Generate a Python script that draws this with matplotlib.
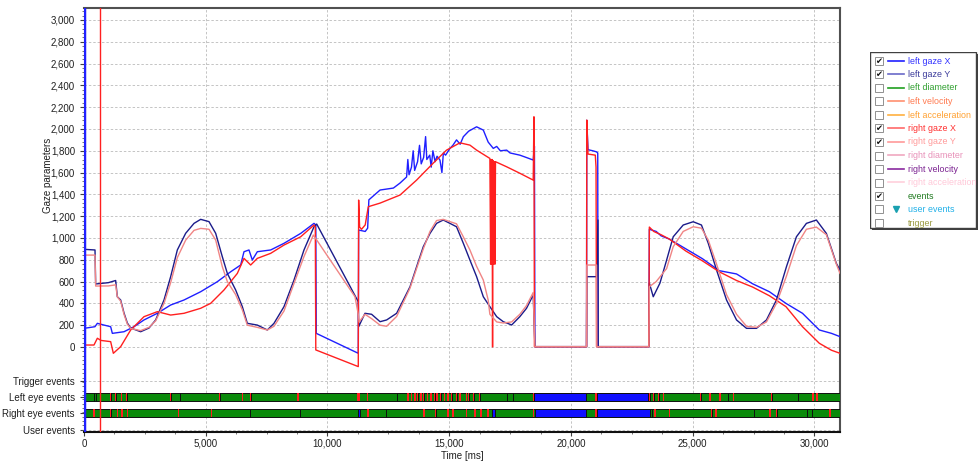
import numpy as np
import matplotlib.pyplot as plt
from matplotlib.ticker import MultipleLocator, FuncFormatter
from matplotlib.patches import Rectangle

plt.rcParams['font.family'] = ['Liberation Sans', 'DejaVu Sans']

# gaze samples: (time ms, value)
left_gaze_x = [(0, 171), (450, 186), (548, 217), (821, 201), (1095, 186), (1164, 125), (1643, 140),
               (2053, 186), (2464, 248), (3012, 309), (3559, 385), (4107, 431), (4792, 507), (5476, 599),
               (6024, 690), (6434, 752), (6571, 874), (6776, 890), (6913, 798), (7119, 874), (7666, 890),
               (8214, 951), (8899, 1042), (9446, 1134), (9520, 1120), (9540, 125), (11265, -58),
               (11280, 1073), (11550, 1060), (11650, 1090), (11700, 1350), (12160, 1440), (12707, 1458),
               (12980, 1504), (13250, 1560), (13300, 1720), (13350, 1580), (13450, 1650), (13520, 1800),
               (13580, 1620), (13700, 1700), (13780, 1850), (13850, 1680), (13950, 1740), (14030, 1930),
               (14080, 1720), (14200, 1760), (14260, 1650), (14330, 1800), (14420, 1700), (14500, 1750),
               (14620, 1715), (14700, 1600), (14760, 1780), (14850, 1760), (15030, 1822), (15150, 1850),
               (15300, 1900), (15450, 1860), (15580, 1929), (15800, 1980), (16125, 2020), (16400, 1990),
               (16600, 1880), (16810, 1822), (16950, 1840), (17100, 1800), (17360, 1806), (17500, 1780),
               (17700, 1770), (17900, 1760), (18150, 1740), (18450, 1715), (18500, 1840), (18520, 3),
               (20640, 3), (20650, 2080), (20700, 1810), (20900, 1800), (21050, 1790), (21100, 1780),
               (21110, 3), (23200, 3), (23220, 1080), (23500, 1060), (23700, 1020), (24040, 990),
               (24720, 900), (25400, 810), (26090, 700), (26800, 670), (27460, 580), (28150, 507),
               (28830, 400), (29510, 309), (30200, 156), (30700, 125), (31050, 95)]

left_gaze_y = [(0, 896), (452, 890), (479, 578), (1000, 590), (1300, 610), (1369, 461), (1506, 431),
               (1643, 312), (1780, 220), (1917, 174), (2327, 140), (2670, 174), (2943, 248), (3286, 431),
               (3559, 645), (3833, 890), (4175, 1043), (4518, 1134), (4792, 1171), (5134, 1150),
               (5408, 1043), (5681, 828), (5887, 675), (6229, 523), (6503, 370), (6708, 217), (7119, 201),
               (7530, 156), (7803, 217), (8214, 370), (8625, 614), (9035, 890), (9446, 1103), (9557, 1128),
               (11265, 415), (11280, 186), (11540, 309), (11812, 300), (12160, 232), (12430, 248),
               (12840, 309), (13115, 431), (13390, 553), (13660, 736), (13935, 920), (14210, 1042),
               (14480, 1134), (14755, 1165), (15030, 1134), (15300, 1103), (15580, 951), (15850, 798),
               (16125, 645), (16400, 461), (16670, 370), (16950, 278), (17220, 232), (17565, 202),
               (17900, 278), (18175, 355), (18450, 477), (18520, 3), (20640, 3), (20650, 645),
               (21050, 645), (21110, 1165), (21120, 3), (23200, 3), (23220, 586), (23380, 461),
               (23655, 586), (23930, 798), (24200, 1011), (24610, 1119), (25020, 1149), (25360, 1119),
               (25640, 951), (25980, 706), (26390, 431), (26800, 248), (27210, 171), (27620, 171),
               (28030, 248), (28440, 431), (28850, 736), (29260, 1011), (29670, 1134), (30080, 1165),
               (30490, 1042), (30900, 767), (31050, 706)]

right_gaze_x = [(0, 18), (410, 18), (548, 80), (700, 60), (1095, 49), (1205, -58), (1506, 3), (1917, 156),
                (2464, 278), (3012, 324), (3559, 293), (4107, 309), (4792, 355), (5200, 400), (5750, 523),
                (6297, 675), (6571, 813), (6845, 752), (7119, 813), (7666, 859), (8214, 935), (8899, 1011),
                (9446, 1119), (9500, 1100), (9520, -27), (11265, -180), (11280, 1348), (11320, 1100),
                (11400, 1080), (11550, 1120), (11676, 1287), (12160, 1320), (12980, 1394), (13660, 1531),
                (14345, 1687), (14890, 1806), (15440, 1873), (15850, 1852), (16125, 1806), (16670, 1730),
                (16700, 760), (16720, 1720), (16740, 760), (16760, 1720), (16780, 0), (16800, 1710),
                (16830, 760), (16860, 1700), (16880, 760), (16900, 1700), (17360, 1653), (17900, 1594),
                (18450, 1531), (18480, 2112), (18500, 3), (20640, 3), (20650, 2082), (20700, 1770),
                (21000, 1760), (21030, 1650), (21050, 3), (23200, 3), (23220, 1100), (23400, 1060),
                (23700, 1030), (24040, 990), (24720, 880), (25400, 790), (26090, 690), (26800, 610),
                (27460, 550), (28150, 470), (28830, 370), (29510, 186), (30200, 34), (30700, -30),
                (31050, -58)]

right_gaze_y = [(0, 843), (452, 843), (479, 559), (1000, 560), (1300, 570), (1369, 461), (1506, 420),
                (1643, 300), (1780, 210), (1917, 170), (2327, 150), (2670, 180), (2943, 240), (3286, 400),
                (3559, 590), (3833, 820), (4175, 980), (4518, 1070), (4792, 1088), (5134, 1080),
                (5408, 981), (5681, 736), (5887, 600), (6229, 480), (6503, 340), (6708, 200), (7119, 180),
                (7530, 156), (7803, 190), (8214, 330), (8625, 583), (9035, 830), (9420, 1027),
                (11130, 461), (11265, 300), (11300, 230), (11540, 300), (11812, 260), (12160, 200),
                (12430, 190), (12840, 280), (13115, 410), (13390, 540), (13660, 720), (13935, 900),
                (14210, 1060), (14480, 1160), (14755, 1171), (15030, 1150), (15300, 1130), (15580, 1010),
                (15850, 890), (16125, 740), (16400, 614), (16600, 431), (16670, 300), (16950, 230),
                (17220, 220), (17565, 230), (17900, 300), (18175, 380), (18450, 500), (18520, 3),
                (20640, 3), (20650, 752), (21050, 752), (21060, 3), (23200, 3), (23220, 553), (23500, 600),
                (23930, 720), (24200, 920), (24610, 1060), (25020, 1103), (25360, 1090), (25640, 980),
                (25980, 760), (26390, 480), (26800, 300), (27210, 190), (27620, 180), (28030, 230),
                (28440, 400), (28850, 650), (29260, 930), (29670, 1080), (30080, 1100), (30490, 1030),
                (30900, 760), (31050, 676)]

# eye events (ms)
left_breaks = [410, 506, 3943, 6480, 12870, 17360, 17632, 26462, 29337]
left_saccades = [1095, 1300, 1533, 1752, 3560, 5572, 6500, 6845, 8789, 11225, 11300, 11636,
                 13300, 13450, 13600, 13700, 13850, 13950, 14100, 14250, 14400, 14500, 14650, 14800,
                 14950, 15100, 15300, 15450, 15700, 15800, 16000, 16250, 18454, 20617, 21028,
                 23230, 23400, 23600, 23800, 25326, 25710, 26120, 26668, 28242, 29950, 30100]
left_blinks = [(18480, 20617), (21055, 23177)]

right_breaks = [383, 6818, 8871, 12400, 16900, 23313, 27500, 29680, 29900]
right_saccades = [410, 1095, 1369, 1570, 1780, 3874, 5230, 11663, 13965, 14443, 14950, 15150,
                  15700, 16050, 16300, 16600, 18454, 20617, 21028, 23450, 24040, 25780, 25950,
                  28174, 28450, 30640]
right_blinks = [(11260, 11320), (16742, 16880), (18522, 20617), (21055, 23245)]

event_rows = ['Trigger events', 'Left eye events', 'Right eye events', 'User events']
event_pos = [-312, -459, -606, -761]

t_end = 31050
cursor_t = 657

fig = plt.figure(figsize=(9.79, 4.61), dpi=100)
ax = fig.add_axes([84 / 979, 29 / 461, 756 / 979, 424 / 461])

series = [(left_gaze_x, '#1f1fff'), (left_gaze_y, '#1b1b8a'),
          (right_gaze_x, '#ff1f1f'), (right_gaze_y, '#f08585')]
for pts, col in series:
    t, v = zip(*pts)
    ax.plot(t, v, color=col, lw=1.0, zorder=3)


def draw_eye(y, breaks, saccades, blinks):
    cuts = sorted(set([0, t_end] + breaks + saccades + [b for bl in blinks for b in bl]))
    segs = [(a, b - a) for a, b in zip(cuts[:-1], cuts[1:])]
    ax.broken_barh(segs, (y - 36, 72), facecolor='#0a8a0a', edgecolor='#101010', lw=0.7, zorder=4)
    ax.broken_barh([(s - 30, 60) for s in saccades], (y - 36, 72), facecolor='#ff2020',
                   edgecolor='none', zorder=5)
    ax.broken_barh([(a, b - a) for a, b in blinks], (y - 36, 72), facecolor='#1010ff',
                   edgecolor='#101010', lw=0.7, zorder=5)


draw_eye(event_pos[1], left_breaks, left_saccades, left_blinks)
draw_eye(event_pos[2], right_breaks, right_saccades, right_blinks)

ax.axvline(0, color='#2020ff', lw=2.5, zorder=6)
ax.axvline(cursor_t, color='#ff2020', lw=1.0, zorder=6)

ax.set_xlim(0, t_end)
ax.set_ylim(-780, 3110)

gaze_ticks = list(range(0, 3001, 200))
ax.set_yticks(gaze_ticks + event_pos)
ax.set_yticklabels([f'{v:,}' for v in gaze_ticks] + event_rows)
ax.yaxis.set_minor_locator(MultipleLocator(40))
ax.xaxis.set_major_locator(MultipleLocator(5000))
ax.xaxis.set_minor_locator(MultipleLocator(1250))
ax.xaxis.set_major_formatter(FuncFormatter(lambda v, p: f'{v:,.0f}'))
ax.tick_params(labelsize=7, length=3, color='#404040', labelcolor='#202020')
ax.tick_params(axis='x', pad=2)
ax.tick_params(which='minor', length=1.5, color='#606060')
ax.grid(True, which='major', ls=(0, (2.5, 2)), color='#c4c4c4', lw=0.7)
ax.set_axisbelow(True)

for side in ['top', 'right']:
    ax.spines[side].set_color('#505050')
    ax.spines[side].set_linewidth(1.5)
ax.spines['bottom'].set_color('#101010')
ax.spines['bottom'].set_linewidth(1.5)
ax.spines['left'].set_color('#2020ff')

fig.text(48 / 979, 1 - 175 / 461, 'Gaze parameters', rotation=90, fontsize=7,
         ha='center', va='center', color='#202020')
fig.text(462 / 979, 1 - 456 / 461, 'Time [ms]', fontsize=7, ha='center', va='center',
         color='#202020')

# legend panel
legend_names = ['left gaze X', 'left gaze Y', 'left diameter', 'left velocity', 'left acceleration',
                'right gaze X', 'right gaze Y', 'right diameter', 'right velocity', 'right acceleration',
                'events', 'user events', 'trigger']
legend_line = ['#2020ff', '#6a6ac8', '#20a020', '#ff9070', '#ffb040', '#ff6a6a', '#ff9a9a',
               '#f0a8c0', '#8a2aa0', '#ffd0dc', None, None, None]
legend_text = ['#3030ff', '#3a3a9a', '#30a030', '#ff7a50', '#ffa030', '#ff3030', '#ff9a9a',
               '#e890b8', '#7a2090', '#ffc8d8', '#207a20', '#20b0e8', '#9a9a40']
legend_checked = [True, True, False, False, False, True, True, False, False, False, True, False, False]

lax = fig.add_axes([870 / 979, 1 - 234 / 461, 109 / 979, 182 / 461])
lax.set_xlim(0, 109)
lax.set_ylim(182, 0)
lax.axis('off')
lax.add_patch(Rectangle((2, 2), 106, 176, facecolor='#404040', edgecolor='none'))
lax.add_patch(Rectangle((0, 0), 106, 176, facecolor='white', edgecolor='#404040', lw=1))
for i, name in enumerate(legend_names):
    y = 9 + 13.5 * i
    lax.add_patch(Rectangle((5, y - 4), 8, 8, facecolor='white', edgecolor='#909090', lw=0.7))
    if legend_checked[i]:
        lax.text(9, y + 0.5, '\u2714', fontsize=6, ha='center', va='center', color='#101010',
                 family='DejaVu Sans')
    if legend_line[i]:
        lax.plot([18, 34], [y, y], color=legend_line[i], lw=1.2)
    if name == 'user events':
        lax.plot([26], [y - 0.5], marker='v', color='#1aa0b0', ms=5)
    lax.text(38, y, name, fontsize=6.4, color=legend_text[i], ha='left', va='center')

fig.savefig('out.png', dpi=100)
